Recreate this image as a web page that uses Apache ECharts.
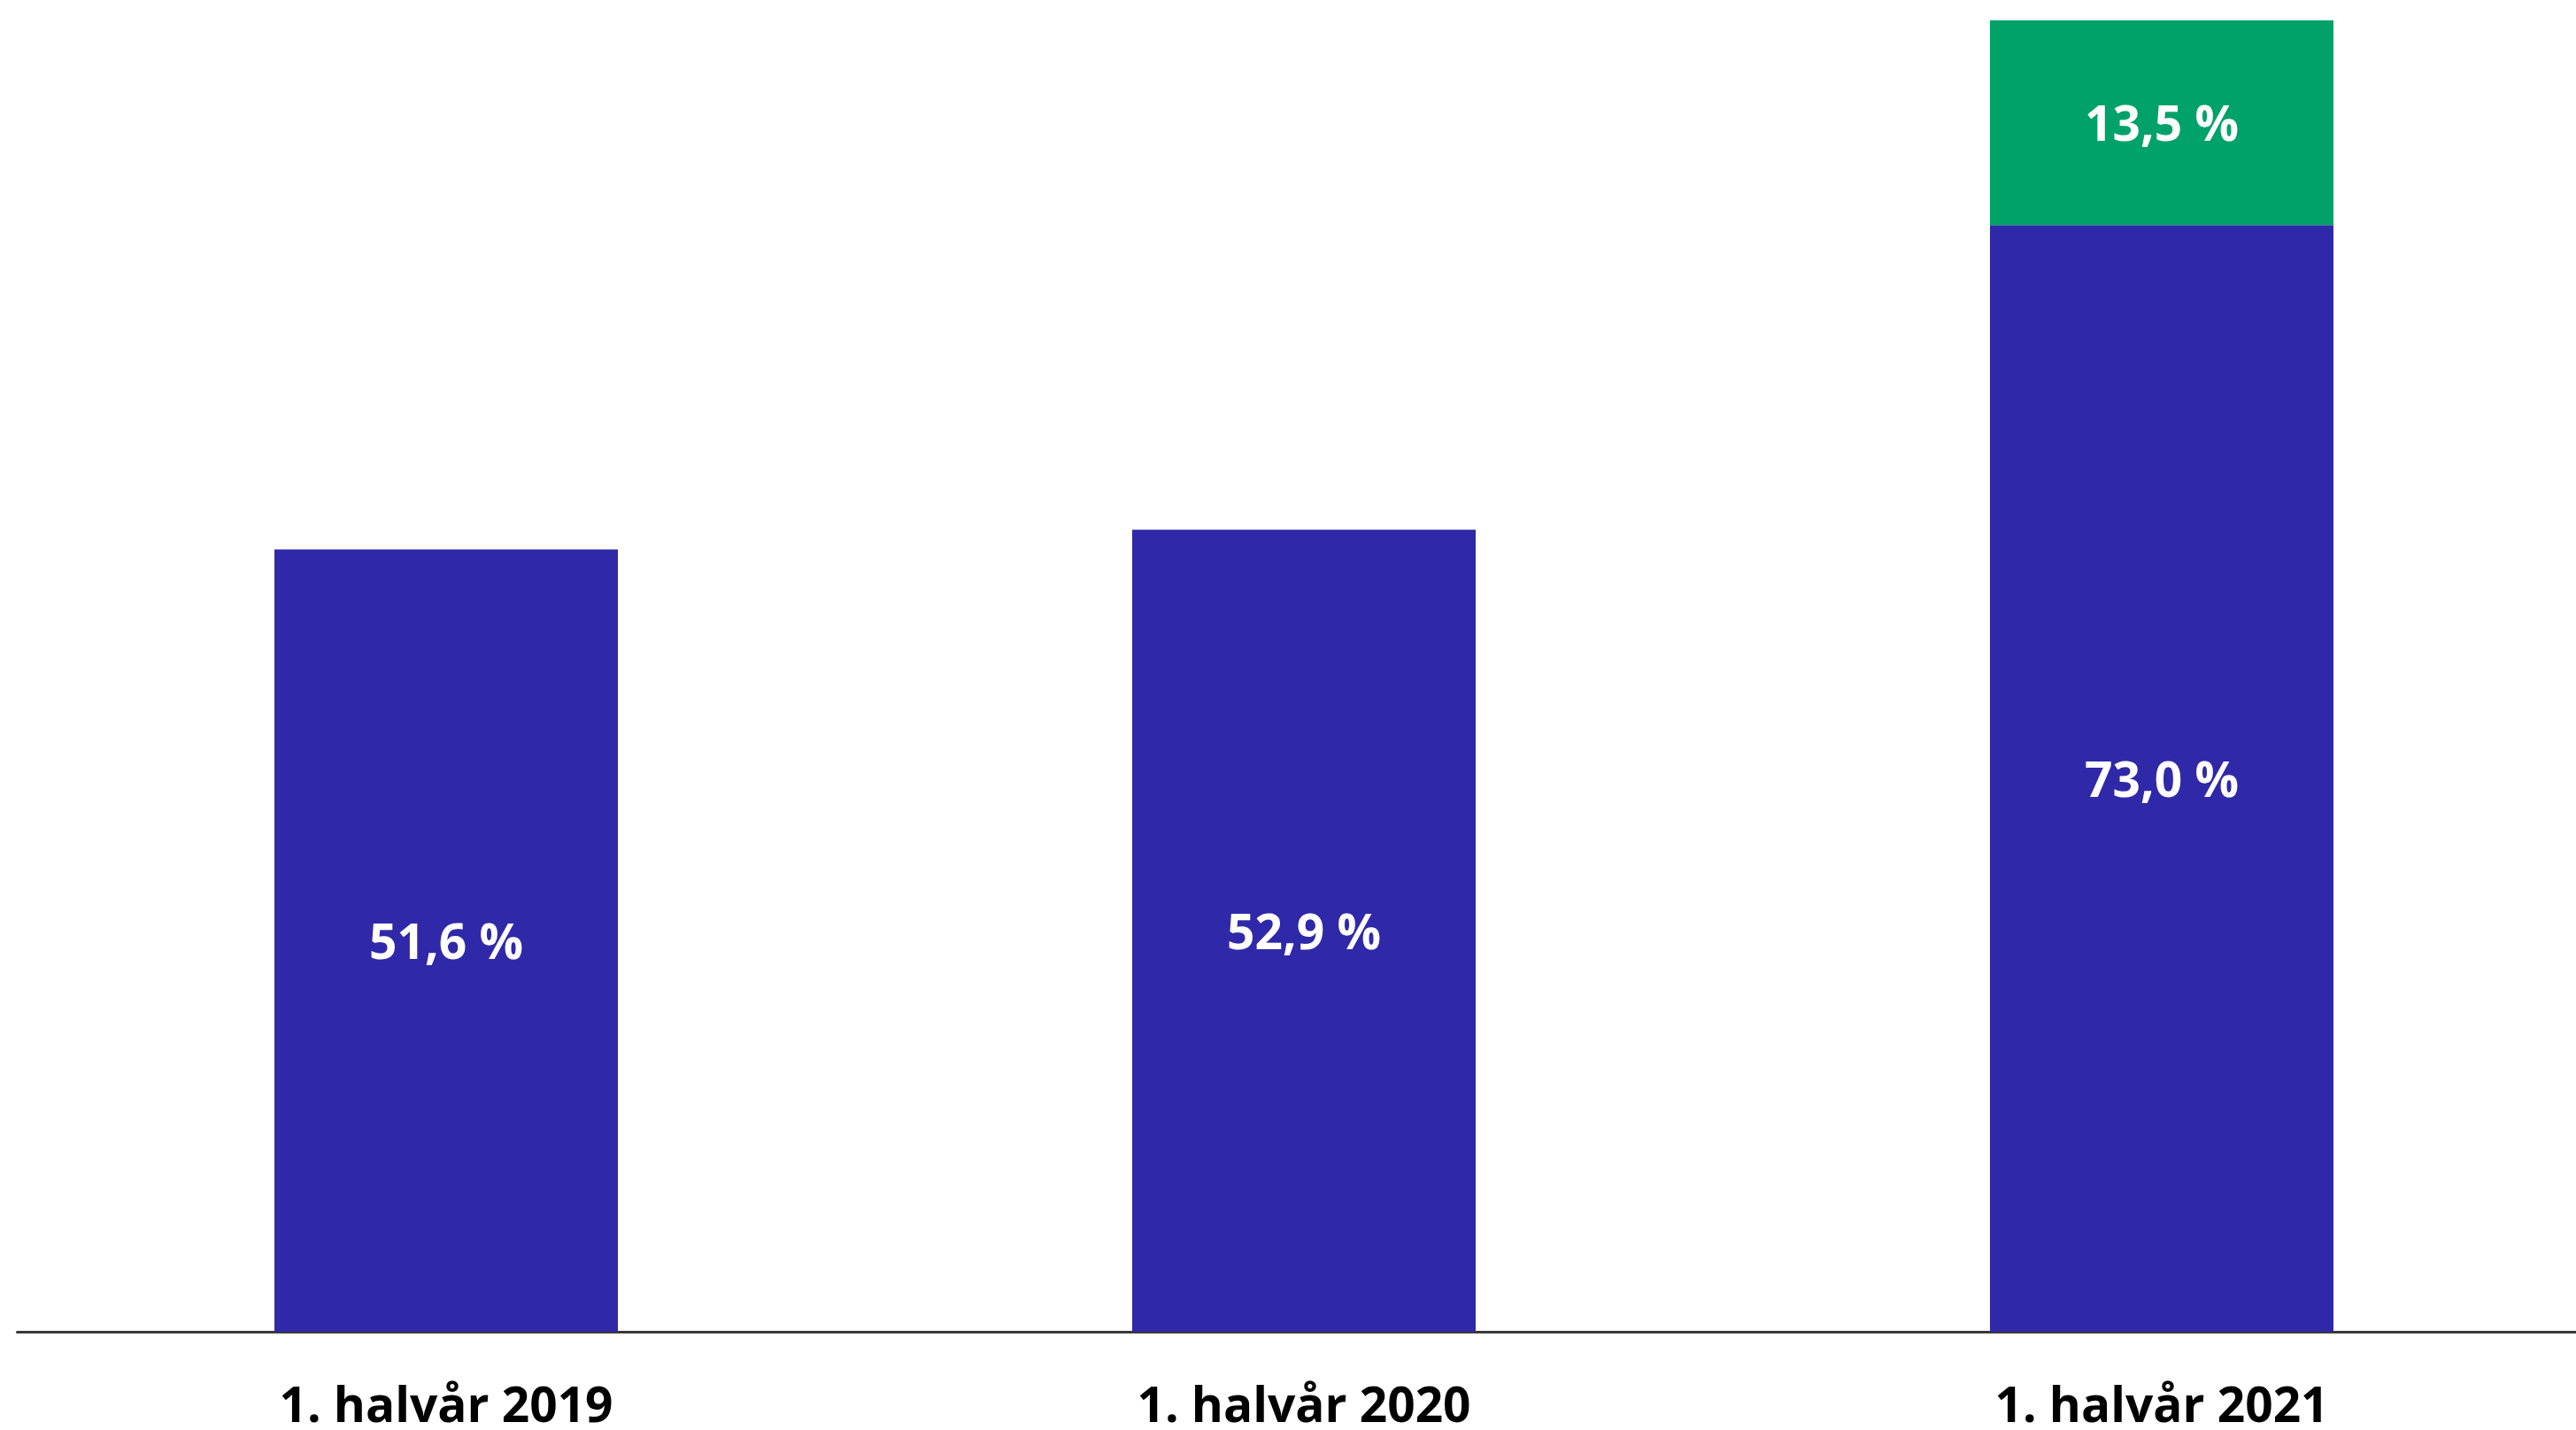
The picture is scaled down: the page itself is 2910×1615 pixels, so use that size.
<!DOCTYPE html>
<html>
<head>
<meta charset="utf-8">
<script src="https://cdn.jsdelivr.net/npm/echarts@6/dist/echarts.min.js"></script>
<style>
html,body{margin:0;padding:0;background:#fff;}
#chart{width:2910px;height:1615px;}
</style>
</head>
<body>
<div id="chart"></div>
<script>
const categories = ['1. halvår 2019', '1. halvår 2020', '1. halvår 2021'];
const baseValues = [51.6, 52.9, 73.0];
const extraValues = [null, null, 13.5];

const fmt = p => p.value == null ? '' : p.value.toFixed(1).replace('.', ',') + ' %';

const chart = echarts.init(document.getElementById('chart'));
chart.setOption({
  animation: false,
  grid: { left: 19.5, top: 23, width: 2907, bottom: 111, containLabel: false, outerBoundsMode: 'none' },
  xAxis: {
    type: 'category',
    data: categories,
    axisLine: { show: true, lineStyle: { color: '#3a3a3a', width: 3 } },
    axisTick: { show: false },
    axisLabel: {
      margin: 59,
      fontFamily: 'Open Sans',
      fontWeight: 'bold',
      fontSize: 55,
      color: '#000'
    }
  },
  yAxis: {
    type: 'value',
    min: 0,
    max: 86.5,
    show: false,
    splitLine: { show: false }
  },
  series: [
    {
      type: 'bar',
      stack: 'total',
      data: baseValues,
      barWidth: 388,
      itemStyle: { color: '#2f29a9' },
      label: {
        show: true,
        position: 'inside',
        offset: [0, 5],
        formatter: fmt,
        fontFamily: 'Open Sans',
        fontWeight: 'bold',
        fontSize: 55,
        color: '#fff'
      }
    },
    {
      type: 'bar',
      stack: 'total',
      data: extraValues,
      barWidth: 388,
      itemStyle: { color: '#00a269' },
      label: {
        show: true,
        position: 'inside',
        offset: [0, 5],
        formatter: fmt,
        fontFamily: 'Open Sans',
        fontWeight: 'bold',
        fontSize: 55,
        color: '#fff'
      }
    }
  ]
});
</script>
</body>
</html>
